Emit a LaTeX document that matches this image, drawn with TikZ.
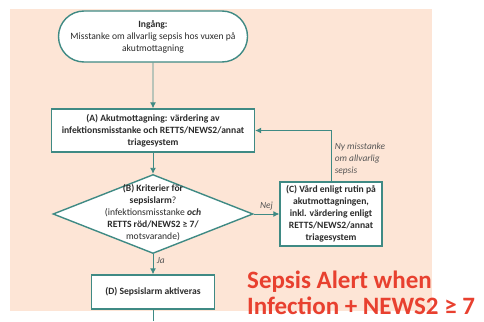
\documentclass[tikz,border=0pt]{standalone}
\usepackage{fontspec}
\setmainfont{Carlito}
\usetikzlibrary{shapes,arrows.meta}
\definecolor{flowteal}{HTML}{3F8A84}
\definecolor{peach}{HTML}{FDE5D6}
\definecolor{alertred}{HTML}{E8402F}
\definecolor{boxtext}{HTML}{2B2B2B}

\begin{document}
\begin{tikzpicture}[x=1pt,y=-1pt]
\tikzset{
	box/.style={draw=flowteal,
		line width=1.4pt,
		fill=white,
		align=center,
		text=boxtext,
		font=\fontsize{9.6}{12}\selectfont\bfseries,
		inner sep=2pt
	},
	terminal/.style={box, shape=rounded rectangle},
	decision/.style={draw=flowteal, line width=1.4pt, fill=white,
		shape=diamond,
		minimum width=200pt,
		minimum height=79pt,
		inner sep=0pt % text goes on top as its own node
	},
	flow/.style={draw=flowteal, line width=0.9pt, -{Latex[length=6pt,width=6pt]}},
	note/.style={font=\fontsize{9.4}{12}\selectfont\itshape, text=boxtext!80, align=left},
	alert/.style={font=\fontsize{25}{26}\selectfont\bfseries, text=alertred, align=left}
}
\useasboundingbox (0,0) rectangle (484,321);
\fill[peach] (10,9) rectangle (432,311);

\node[terminal, minimum width=193pt, minimum height=51pt] (START) at (153,36.5) {Ingång:\\{\mdseries Misstanke om allvarlig sepsis hos vuxen på}\\{\mdseries akutmottagning}};
\node[box, minimum width=203pt, minimum height=43pt] (A) at (153,130.5) {(A) Akutmottagning: värdering av\\infektionsmisstanke och RETTS/NEWS2/annat\\triagesystem};
\node[decision] (B) at (153,214) {};
\node[box, draw=none, fill=none, inner sep=0pt] (BLBL) at (153,213) {(B) Kriterier för\\sepsislarm{\mdseries ?}\\{\mdseries (infektionsmisstanke} \textit{och}\\RETTS röd/NEWS2 ≥ 7/\\{\mdseries motsvarande)}};
\node[box, minimum width=102pt, minimum height=64pt] (C) at (331,214) {(C) Vård enligt rutin på\\akutmottagningen,\\inkl. värdering enligt\\RETTS/NEWS2/annat\\triagesystem};
\node[box, minimum width=123pt, minimum height=34pt] (D) at (153,292) {(D) Sepsislarm aktiveras};
\coordinate (END) at (153,321);

{\draw[flow] (START) -- (A);}
{\draw[flow] (A) -- (B);}
{\draw[flow] (B.east) -- (C) node[midway, above, note] {Nej};}
{\draw[flow] (C.north) |- (A.east) node[pos=0.22, right, note] {Ny misstanke\\om allvarlig\\sepsis};}
{\draw[flow] (B.south) -- (D) node[pos=0.3, right, note] {Ja};}
{\draw[draw=flowteal, line width=0.9pt] (D) -- (END);}

\node[alert, anchor=north west, inner sep=0pt] (ALERTLBL) at (247,271) {Sepsis Alert when\\Infection + NEWS2 ≥ 7};

\end{tikzpicture}
\end{document}
